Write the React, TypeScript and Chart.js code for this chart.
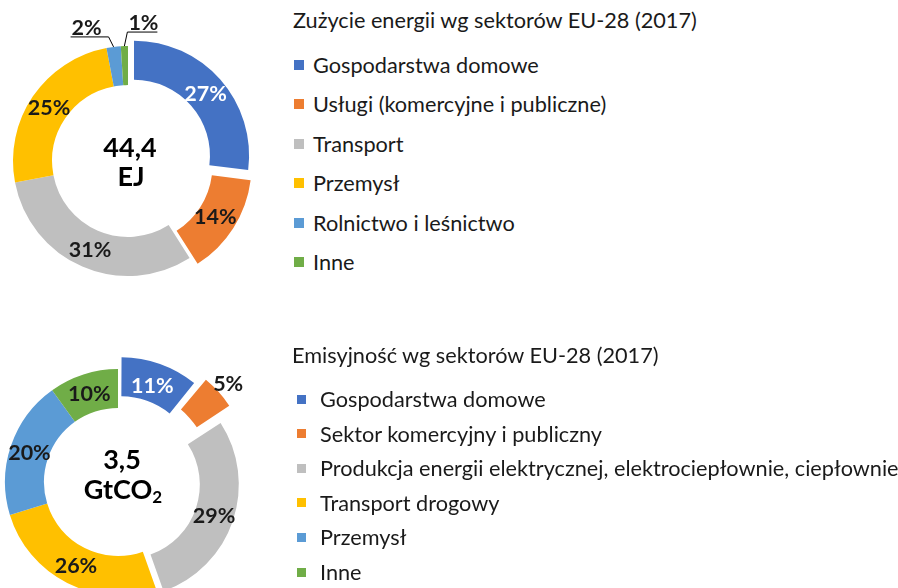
import React, { useEffect, useRef } from 'react';
import { Chart, registerables } from 'chart.js';

Chart.register(...registerables);

// ---------- data ----------
const energyTitle = 'Zużycie energii wg sektorów EU-28 (2017)';
const energyLabels = [
  'Gospodarstwa domowe',
  'Usługi (komercyjne i publiczne)',
  'Transport',
  'Przemysł',
  'Rolnictwo i leśnictwo',
  'Inne',
];
const energyValues = [27, 14, 31, 25, 2, 1];
const energyCenter = ['44,4', 'EJ'];

const emissionTitle = 'Emisyjność wg sektorów EU-28 (2017)';
const emissionLabels = [
  'Gospodarstwa domowe',
  'Sektor komercyjny i publiczny',
  'Produkcja energii elektrycznej, elektrociepłownie, ciepłownie',
  'Transport drogowy',
  'Przemysł',
  'Inne',
];
const emissionValues = [11, 5, 29, 26, 20, 10];
const emissionCenter = ['3,5', 'GtCO', '2'];

const sectorColors = ['#4472C4', '#ED7D31', '#BFBFBF', '#FFC000', '#5B9BD5', '#70AD47'];

// ---------- styles ----------
const FONT = 'Lato, "Open Sans", sans-serif';
const TEXT = '#1a1a1a';
const LEGEND_SIZE = 21.7;
const OFFSET_SCALE = 4; // Chart.js arc draws offset / 4

type LabelSpec = {
  mode: 'in' | 'out' | 'leader';
  color: string;
  gap?: number;
  dx?: number;
  dy?: number;
  dir?: number;
  len?: number;
};

function makeLabelPlugin(specs: LabelSpec[], drawCenter: (ctx: CanvasRenderingContext2D, x: number, y: number) => void) {
  return {
    id: 'pctLabels',
    afterDatasetsDraw(chart: any) {
      const ctx: CanvasRenderingContext2D = chart.ctx;
      const meta = chart.getDatasetMeta(0);
      const data = chart.data.datasets[0].data as number[];
      const total = data.reduce((a, b) => a + b, 0);
      ctx.save();
      ctx.font = `bold 21.5px ${FONT}`;
      meta.data.forEach((el: any, i: number) => {
        const { x, y, startAngle, endAngle, innerRadius, outerRadius } = el.getProps(
          ['x', 'y', 'startAngle', 'endAngle', 'innerRadius', 'outerRadius'],
          true
        );
        const off = (el.options.offset || 0) / OFFSET_SCALE;
        const mid = (startAngle + endAngle) / 2;
        const text = Math.round((data[i] / total) * 100) + '%';
        const s = specs[i];
        ctx.fillStyle = s.color;
        if (s.mode === 'in' || s.mode === 'out') {
          const r = s.mode === 'in' ? (innerRadius + outerRadius) / 2 + off : outerRadius + off + (s.gap || 0);
          ctx.textAlign = 'center';
          ctx.textBaseline = 'middle';
          ctx.fillText(text, x + Math.cos(mid) * r, y + Math.sin(mid) * r + 1);
        } else {
          const r0 = outerRadius + off;
          const p0x = x + Math.cos(mid) * r0;
          const p0y = y + Math.sin(mid) * r0;
          const p1x = p0x + (s.dx || 0);
          const p1y = p0y + (s.dy || 0);
          const p2x = p1x + (s.dir || 1) * (s.len || 30);
          ctx.strokeStyle = '#000';
          ctx.lineWidth = 1;
          ctx.beginPath();
          ctx.moveTo(p0x, p0y);
          ctx.lineTo(p1x, p1y);
          ctx.lineTo(p2x, p1y);
          ctx.stroke();
          ctx.textAlign = 'left';
          ctx.textBaseline = 'alphabetic';
          ctx.fillText(text, Math.min(p1x, p2x) + 1, p1y - 2);
        }
      });
      const first = meta.data[0];
      drawCenter(ctx, first.x, first.y);
      ctx.restore();
    },
  };
}

type DonutProps = {
  values: number[];
  labels: string[];
  offsets: number[];
  radius: number;
  cutout: string;
  width: number;
  height: number;
  padRight: number;
  specs: LabelSpec[];
  drawCenter: (ctx: CanvasRenderingContext2D, x: number, y: number) => void;
  style: React.CSSProperties;
};

function Donut(p: DonutProps) {
  const ref = useRef<HTMLCanvasElement | null>(null);
  useEffect(() => {
    if (!ref.current) return;
    const chart = new Chart(ref.current, {
      type: 'doughnut',
      data: {
        labels: p.labels,
        datasets: [
          {
            data: p.values,
            backgroundColor: sectorColors,
            borderWidth: 0,
            offset: p.offsets.map((o) => o * OFFSET_SCALE),
            hoverOffset: 0,
          } as any,
        ],
      },
      options: {
        responsive: false,
        animation: false,
        radius: p.radius,
        cutout: p.cutout,
        layout: { padding: { right: p.padRight } },
        events: [],
        plugins: {
          legend: { display: false },
          tooltip: { enabled: false },
        },
      } as any,
      plugins: [makeLabelPlugin(p.specs, p.drawCenter)],
    });
    return () => chart.destroy();
  }, []);
  return (
    <canvas
      ref={ref}
      width={p.width}
      height={p.height}
      style={{ position: 'absolute', width: p.width, height: p.height, ...p.style }}
    />
  );
}

function Legend({
  title,
  labels,
  left,
  titleY,
  firstY,
  step,
  square,
  squareLeft,
  textLeft,
}: {
  title: string;
  labels: string[];
  left: number;
  titleY: number;
  firstY: number;
  step: number;
  square: number;
  squareLeft: number;
  textLeft: number;
}) {
  const lh = 28;
  const textStyle: React.CSSProperties = {
    position: 'absolute',
    height: lh,
    lineHeight: `${lh}px`,
    fontSize: LEGEND_SIZE,
    color: TEXT,
    whiteSpace: 'nowrap',
  };
  return (
    <>
      <div style={{ ...textStyle, left, top: titleY - lh / 2 }}>{title}</div>
      {labels.map((l, i) => {
        const cy = firstY + i * step;
        return (
          <React.Fragment key={i}>
            <div
              style={{
                position: 'absolute',
                left: squareLeft,
                top: cy - square / 2,
                width: square,
                height: square,
                background: sectorColors[i],
              }}
            />
            <div style={{ ...textStyle, left: textLeft, top: cy - lh / 2 }}>{l}</div>
          </React.Fragment>
        );
      })}
    </>
  );
}

const drawEnergyCenter = (ctx: CanvasRenderingContext2D, x: number, y: number) => {
  ctx.fillStyle = '#000';
  ctx.font = `bold 27px ${FONT}`;
  ctx.textAlign = 'center';
  ctx.textBaseline = 'middle';
  ctx.fillText(energyCenter[0], x + 2, y - 13);
  ctx.fillText(energyCenter[1], x + 3, y + 16);
};

const drawEmissionCenter = (ctx: CanvasRenderingContext2D, x: number, y: number) => {
  ctx.fillStyle = '#000';
  ctx.font = `bold 27px ${FONT}`;
  ctx.textAlign = 'center';
  ctx.textBaseline = 'middle';
  ctx.fillText(emissionCenter[0], x + 4, y - 22);
  const main = emissionCenter[1];
  const w1 = ctx.measureText(main).width;
  ctx.font = `bold 17px ${FONT}`;
  const w2 = ctx.measureText(emissionCenter[2]).width;
  const startX = x + 5 - (w1 + w2) / 2;
  ctx.textAlign = 'left';
  ctx.font = `bold 27px ${FONT}`;
  ctx.fillText(main, startX, y + 8);
  ctx.font = `bold 17px ${FONT}`;
  ctx.fillText(emissionCenter[2], startX + w1, y + 16);
};

export default function App() {
  return (
    <div
      style={{
        position: 'fixed',
        left: 0,
        top: 0,
        width: 898,
        height: 588,
        overflow: 'hidden',
        background: '#fff',
        fontFamily: FONT,
      }}
    >
      <Donut
        values={energyValues}
        labels={energyLabels}
        offsets={[8, 8, 0, 0, 0, 0]}
        radius={115}
        cutout="66%"
        width={280}
        height={322}
        padRight={24}
        style={{ left: 0, top: 0 }}
        specs={[
          { mode: 'in', color: '#fff' },
          { mode: 'in', color: TEXT },
          { mode: 'in', color: TEXT },
          { mode: 'in', color: TEXT },
          { mode: 'leader', color: TEXT, dx: -5, dy: -10, dir: -1, len: 38 },
          { mode: 'leader', color: TEXT, dx: 3, dy: -14, dir: 1, len: 30 },
        ]}
        drawCenter={drawEnergyCenter}
      />
      <Donut
        values={emissionValues}
        labels={emissionLabels}
        offsets={[9, 13, 8, 0, 0, 0]}
        radius={113}
        cutout="65.5%"
        width={300}
        height={304}
        padRight={64}
        style={{ left: 0, top: 330 }}
        specs={[
          { mode: 'in', color: '#fff' },
          { mode: 'out', color: TEXT, gap: 22 },
          { mode: 'in', color: TEXT },
          { mode: 'in', color: TEXT },
          { mode: 'in', color: TEXT },
          { mode: 'in', color: TEXT },
        ]}
        drawCenter={drawEmissionCenter}
      />
      <Legend
        title={energyTitle}
        labels={energyLabels}
        left={293}
        titleY={20}
        firstY={65}
        step={39.4}
        square={10}
        squareLeft={294}
        textLeft={313}
      />
      <Legend
        title={emissionTitle}
        labels={emissionLabels}
        left={292}
        titleY={355}
        firstY={399}
        step={34.6}
        square={9}
        squareLeft={297}
        textLeft={320}
      />
    </div>
  );
}
